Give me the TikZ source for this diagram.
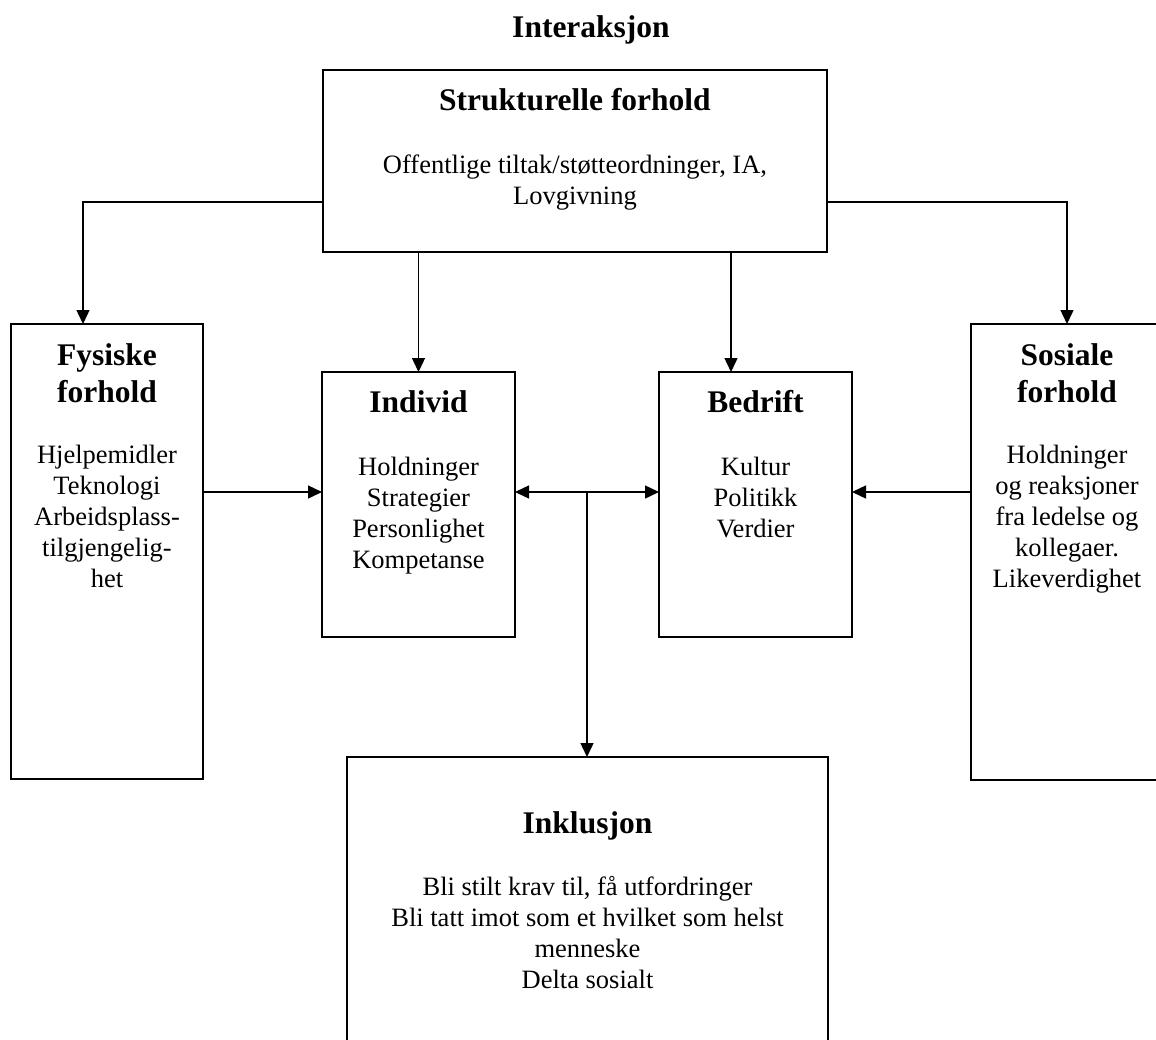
\documentclass[tikz,border=0pt]{standalone}
\usepackage{fontspec}
\setmainfont{Liberation Serif}
\usetikzlibrary{arrows.meta,calc}

\begin{document}
\begin{tikzpicture}[x=1pt,y=-1pt,
  boks/.style={draw,line width=1.4pt,inner sep=0pt,outer sep=0pt},
  tittel/.style={font=\fontsize{31.5}{37}\selectfont\bfseries,align=center,anchor=base,inner sep=0pt},
  tekst/.style={font=\fontsize{26.5}{31}\selectfont,align=center,anchor=base,inner sep=0pt},
  pil/.style={line width=1.4pt,-{Triangle[length=14pt,width=13pt]}},
  dobbelpil/.style={line width=1.4pt,{Triangle[length=14pt,width=13pt]}-{Triangle[length=14pt,width=13pt]}}]
  \useasboundingbox (0,0) rectangle (1156,1039);
  \clip (0,0) rectangle (1156,1039);

  \node[tittel] (interaksjon) at (591,37) {Interaksjon};

  % boxes
  \node[boks,minimum width=504,minimum height=182] (struk) at (575,161) {};
  \node[boks,minimum width=192,minimum height=455] (fysisk) at (107,551.5) {};
  \node[boks,minimum width=193,minimum height=265] (individ) at (418.5,504.5) {};
  \node[boks,minimum width=193,minimum height=265] (bedrift) at (755.5,504.5) {};
  \node[boks,minimum width=192,minimum height=456] (sosial) at (1067,552) {};
  \node[boks,minimum width=481,minimum height=400] (inklusjon) at (587.5,957) {};

  % texts (base = last line)
  \node[tittel] (strukT) at ($(struk.north)+(0,40)$) {Strukturelle forhold};
  \node[tekst] (strukB) at ($(struk.north)+(0,134)$) {Offentlige tiltak/støtteordninger, IA,\\Lovgivning};
  \node[tittel] (fysiskT) at ($(fysisk.north)+(0,78)$) {Fysiske\\forhold};
  \node[tekst] (fysiskB) at ($(fysisk.north)+(0,263)$) {Hjelpemidler\\Teknologi\\Arbeidsplass-\\tilgjengelig-\\het};
  \node[tittel] (individT) at ($(individ.north)+(0,40)$) {Individ};
  \node[tekst] (individB) at ($(individ.north)+(0,196)$) {Holdninger\\Strategier\\Personlighet\\Kompetanse};
  \node[tittel] (bedriftT) at ($(bedrift.north)+(0,40)$) {Bedrift};
  \node[tekst] (bedriftB) at ($(bedrift.north)+(0,165)$) {Kultur\\Politikk\\Verdier};
  \node[tittel] (sosialT) at ($(sosial.north)+(0,78)$) {Sosiale\\forhold};
  \node[tekst] (sosialB) at ($(sosial.north)+(0,263)$) {Holdninger\\og reaksjoner\\fra ledelse og\\kollegaer.\\Likeverdighet};
  \node[tittel] (inklusjonT) at ($(inklusjon.north)+(0,76)$) {Inklusjon};
  \node[tekst] (inklusjonB) at ($(inklusjon.north)+(0,231)$) {Bli stilt krav til, få utfordringer\\Bli tatt imot som et hvilket som helst\\menneske\\Delta sosialt};

  % arrows
  \coordinate (kryss) at (587,492);
  \draw[pil] (struk.west |- 0,202) -| ([xshift=-24pt]fysisk.north);
  \draw[pil] (struk.east |- 0,202) -| (sosial.north);
  \draw[pil] (struk.south -| individ.north) -- (individ.north);
  \draw[pil] (struk.south -| 731,0) -- (bedrift.north -| 731,0);
  \draw[pil] (fysisk.east |- kryss) -- (individ.west |- kryss);
  \draw[pil] (sosial.west |- kryss) -- (bedrift.east |- kryss);
  \draw[dobbelpil] (individ.east |- kryss) -- (bedrift.west |- kryss);
  \draw[pil] (kryss) -- (inklusjon.north -| kryss);
\end{tikzpicture}
\end{document}
